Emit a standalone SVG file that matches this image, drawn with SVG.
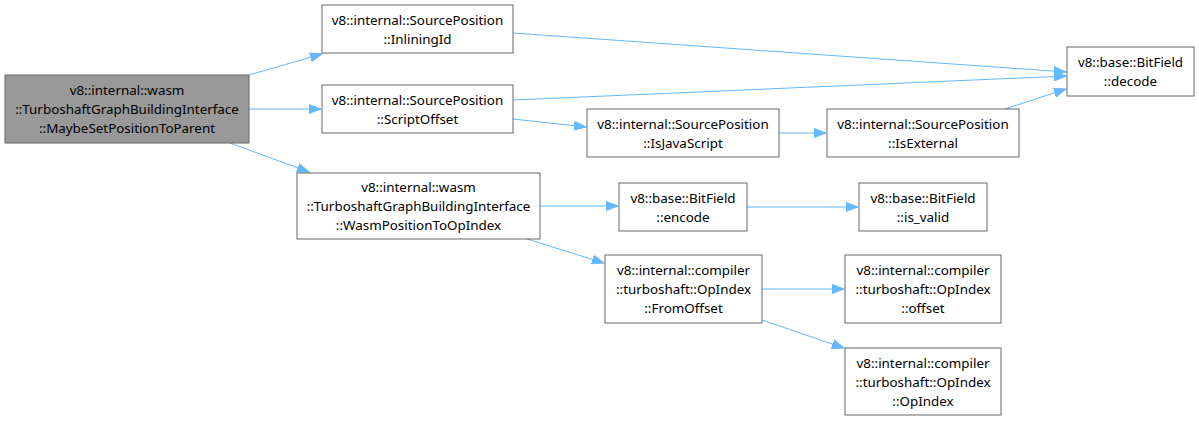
<svg xmlns="http://www.w3.org/2000/svg" width="1199" height="421" viewBox="0 0 1199 421">
<style>
.n rect{fill:#fff;stroke:#666;stroke-width:1}
.n text{font-family:"Noto Sans",sans-serif;font-size:13.4px;fill:#000;text-anchor:middle}
#main rect{fill:#999;stroke:#666}
.e{stroke:#63b8ff;stroke-width:1;fill:none;marker-end:url(#ah)}
</style>
<defs>
<marker id="ah" markerUnits="userSpaceOnUse" markerWidth="14" markerHeight="10" refX="12" refY="5" orient="auto">
<path d="M0,0.5 L12,5 L0,9.5 Z" fill="#63b8ff" stroke="#63b8ff"/>
</marker>
</defs>
<rect width="1199" height="421" fill="#fff"/>
<g id="edges">
<path class="e" d="M249,75 L322,54"/>
<path class="e" d="M249,109 L321,109"/>
<path class="e" d="M230,143 L309,172"/>
<path class="e" d="M513,33 L1066,72"/>
<path class="e" d="M513,100 L1066,76"/>
<path class="e" d="M513,119 L586,127"/>
<path class="e" d="M779,133 L826,133"/>
<path class="e" d="M1005,109 L1066,89"/>
<path class="e" d="M540,206 L618,206"/>
<path class="e" d="M527,239 L604,263"/>
<path class="e" d="M747,207 L858,207"/>
<path class="e" d="M762,289 L844,289"/>
<path class="e" d="M762,320 L844,348"/>
</g>
<g id="main" class="n"><rect x="5" y="75" width="244" height="68"/>
<text x="127" y="94.5">v8::internal::wasm</text><text x="127" y="113.5">::TurboshaftGraphBuildingInterface</text><text x="127" y="132.5">::MaybeSetPositionToParent</text></g>
<g id="inliningid" class="n"><rect x="322" y="5" width="191" height="48"/>
<text x="417.5" y="24.5">v8::internal::SourcePosition</text><text x="417.5" y="43.5">::InliningId</text></g>
<g id="scriptoffset" class="n"><rect x="322" y="85" width="191" height="48"/>
<text x="417.5" y="104.5">v8::internal::SourcePosition</text><text x="417.5" y="123.5">::ScriptOffset</text></g>
<g id="wasmpos" class="n"><rect x="297" y="173" width="243" height="66"/>
<text x="418.5" y="191.5">v8::internal::wasm</text><text x="418.5" y="210.5">::TurboshaftGraphBuildingInterface</text><text x="418.5" y="229.5">::WasmPositionToOpIndex</text></g>
<g id="isjavascript" class="n"><rect x="587" y="109" width="192" height="48"/>
<text x="683" y="128.5">v8::internal::SourcePosition</text><text x="683" y="147.5">::IsJavaScript</text></g>
<g id="isexternal" class="n"><rect x="827" y="109" width="192" height="48"/>
<text x="923" y="128.5">v8::internal::SourcePosition</text><text x="923" y="147.5">::IsExternal</text></g>
<g id="decode" class="n"><rect x="1067" y="47" width="127" height="49"/>
<text x="1130.5" y="66.5">v8::base::BitField</text><text x="1130.5" y="85.5">::decode</text></g>
<g id="encode" class="n"><rect x="619" y="183" width="128" height="48"/>
<text x="683" y="202.5">v8::base::BitField</text><text x="683" y="221.5">::encode</text></g>
<g id="isvalid" class="n"><rect x="859" y="183" width="128" height="48"/>
<text x="923" y="202.5">v8::base::BitField</text><text x="923" y="221.5">::is_valid</text></g>
<g id="fromoffset" class="n"><rect x="605" y="255" width="157" height="68"/>
<text x="683.5" y="274.5">v8::internal::compiler</text><text x="683.5" y="293.5">::turboshaft::OpIndex</text><text x="683.5" y="312.5">::FromOffset</text></g>
<g id="offset" class="n"><rect x="845" y="255" width="156" height="68"/>
<text x="923" y="274.5">v8::internal::compiler</text><text x="923" y="293.5">::turboshaft::OpIndex</text><text x="923" y="312.5">::offset</text></g>
<g id="opindex" class="n"><rect x="845" y="348" width="156" height="67"/>
<text x="923" y="367.5">v8::internal::compiler</text><text x="923" y="386.5">::turboshaft::OpIndex</text><text x="923" y="405.5">::OpIndex</text></g>
</svg>
